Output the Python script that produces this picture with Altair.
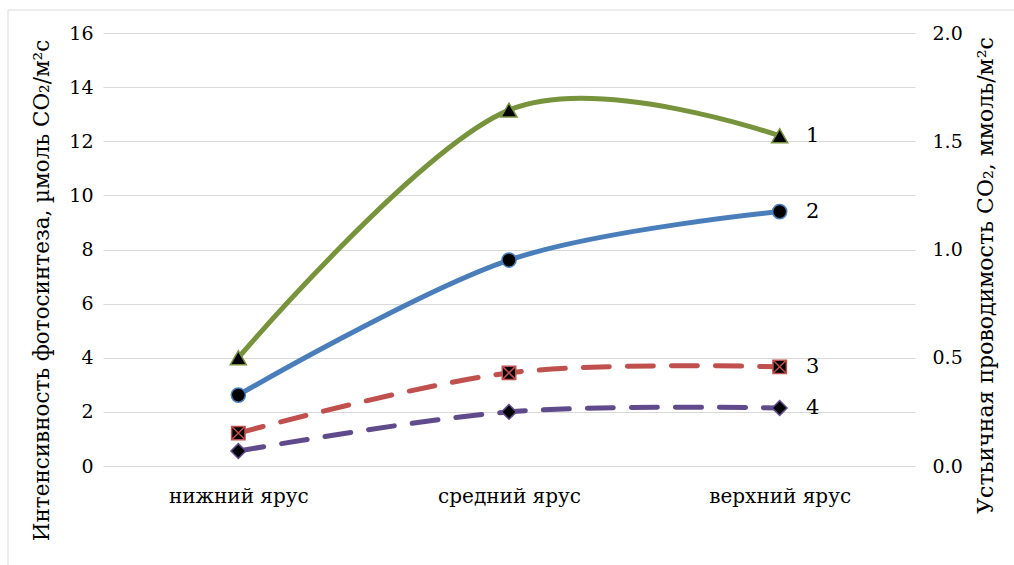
import altair as alt
import pandas as pd

levels = ["нижний ярус", "средний ярус", "верхний ярус"]

# photosynthesis, µmol CO2/m2 s (left axis)
s1 = [4.0, 13.15, 12.2]
s2 = [2.62, 7.61, 9.4]
# stomatal conductance, mmol/m2 s (right axis)
s3 = [0.152, 0.43, 0.458]
s4 = [0.069, 0.25, 0.268]

series_labels = ["1", "2", "3", "4"]

FONT = "DejaVu Serif"
W, H = 812, 433

photo = pd.DataFrame({
    "level": levels * 2,
    "value": s1 + s2,
    "series": [series_labels[0]] * 3 + [series_labels[1]] * 3,
})
cond = pd.DataFrame({
    "level": levels * 2,
    "value": s3 + s4,
    "series": [series_labels[2]] * 3 + [series_labels[3]] * 3,
})

xenc = alt.X("level:N", sort=levels,
             scale=alt.Scale(type="point", padding=0.5),
             axis=alt.Axis(title=None, domain=False, ticks=False, grid=False,
                           labelAngle=0, labelFont=FONT, labelFontSize=20,
                           labelColor="black", labelPadding=20))

yleft = alt.Y("value:Q", scale=alt.Scale(domain=[0, 16], nice=False),
              axis=alt.Axis(values=list(range(0, 17, 2)), domain=False, ticks=False,
                            grid=True, gridColor="#d9d9d9", gridWidth=1,
                            labelFont=FONT, labelFontSize=19, labelColor="black",
                            labelPadding=10,
                            title="Интенсивность фотосинтеза, µмоль CO₂/м²с",
                            titleFont=FONT, titleFontSize=21.5, titleFontWeight="normal",
                            titleColor="black", titleAngle=-90, titleX=-61, titleY=257,
                            titleAlign="center", titleBaseline="middle"))

yright = alt.Y("value:Q", scale=alt.Scale(domain=[0, 2], nice=False),
               axis=alt.Axis(orient="right", values=[0, 0.5, 1.0, 1.5, 2.0], format=".1f",
                             domain=False, ticks=False, grid=False,
                             labelFont=FONT, labelFontSize=19, labelColor="black",
                             labelPadding=17,
                             title="Устьичная проводимость CO₂, ммоль/м²с",
                             titleFont=FONT, titleFontSize=22, titleFontWeight="normal",
                             titleColor="black", titleAngle=-90, titleX=70, titleY=242,
                             titleAlign="center", titleBaseline="middle"))

def series_layers(df, name, color, dash, shape, size, yenc, xmark=False):
    d = alt.Chart(df).transform_filter(alt.datum.series == name)
    line = d.mark_line(color=color, strokeWidth=5, interpolate="cardinal",
                       strokeCap="round", **({"strokeDash": dash} if dash else {})
                       ).encode(x=xenc, y=yenc)
    pts = d.mark_point(shape=shape, filled=True, fill="black", stroke=color,
                       strokeWidth=1.5, size=size, opacity=1).encode(x=xenc, y=yenc)
    layers = [line, pts]
    if xmark:
        layers.append(d.mark_point(shape="M-1,-1L1,1M-1,1L1,-1", filled=False,
                                   stroke=color, strokeWidth=1.5, size=size * 0.8,
                                   opacity=1).encode(x=xenc, y=yenc))
    txt = d.transform_filter(alt.datum.level == levels[-1]).mark_text(
        dx=33, align="center", baseline="middle", font=FONT, fontSize=21,
        color="black").encode(x=xenc, y=yenc, text="series:N")
    layers.append(txt)
    return layers

left = alt.layer(
    *series_layers(photo, "1", "#77933c", None, "triangle-up", 260, yleft),
    *series_layers(photo, "2", "#4a7ebb", None, "circle", 200, yleft),
)
right = alt.layer(
    *series_layers(cond, "3", "#c0504d", [26, 18], "square", 180, yright, xmark=True),
    *series_layers(cond, "4", "#5f4b8b", [26, 18], "diamond", 220, yright),
)

border = alt.Chart(pd.DataFrame({"a": [0]})).mark_rect(
    filled=False, stroke="#d9d9d9", strokeWidth=1).encode(
    x=alt.value(-95), x2=alt.value(1200), y=alt.value(-23), y2=alt.value(700))

chart = alt.layer(border, left, right).resolve_scale(y="independent").properties(
    width=W, height=H,
    autosize=alt.AutoSizeParams(type="none"),
    padding={"left": 103, "top": 33, "right": 99, "bottom": 99},
).configure(background="white", font=FONT).configure_view(stroke=None, strokeWidth=0)

chart.save("out.html", embed_options={"renderer": "svg", "actions": False})
